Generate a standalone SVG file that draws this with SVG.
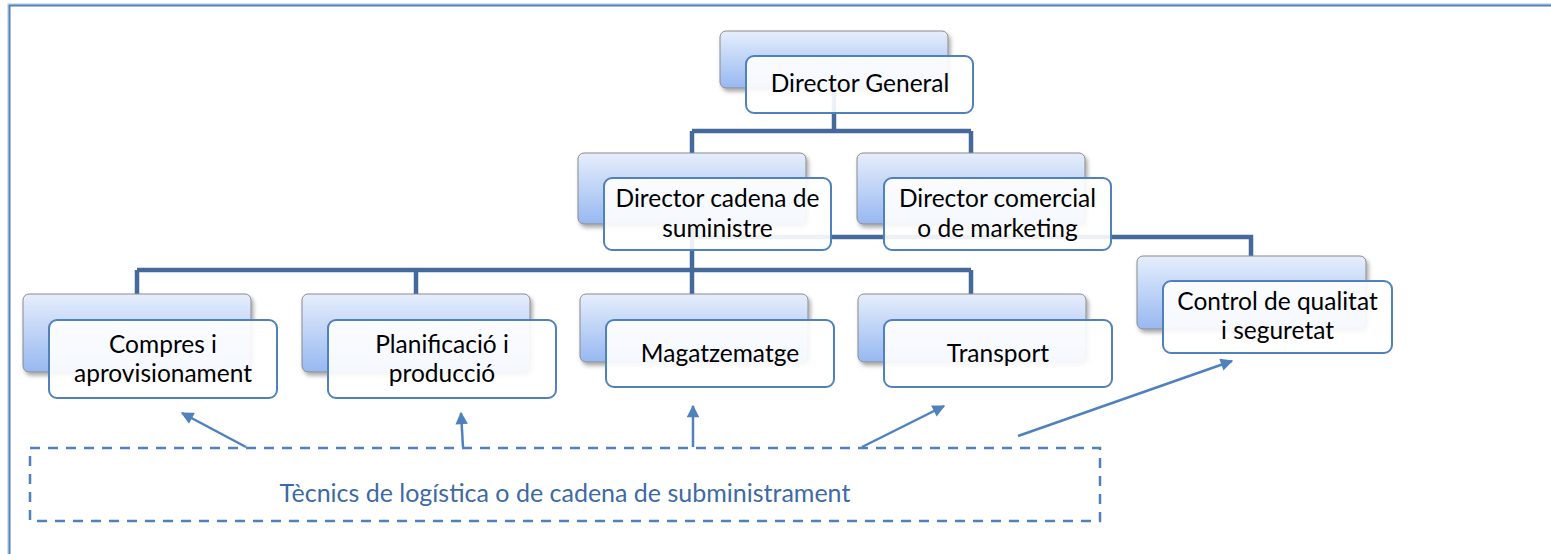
<svg xmlns="http://www.w3.org/2000/svg" width="1551" height="554" viewBox="0 0 1551 554">
<defs>
<linearGradient id="bg" x1="0" y1="0" x2="0" y2="1">
<stop offset="0" stop-color="#e6eefc"/>
<stop offset="1" stop-color="#97b8f1"/>
</linearGradient>
<filter id="sh" x="-10%" y="-10%" width="120%" height="130%">
<feDropShadow dx="2" dy="3" stdDeviation="2" flood-color="#000" flood-opacity="0.35"/>
</filter>
<marker id="ah" viewBox="0 0 10 10" refX="9" refY="5" markerWidth="5.5" markerHeight="5" orient="auto" markerUnits="strokeWidth">
<path d="M0,0 L10,5 L0,10 z" fill="#4f81bd"/>
</marker>
<style>
.back{fill:url(#bg);stroke:#8a8a8a;stroke-width:1;filter:url(#sh)}
.front{fill:#ffffff;fill-opacity:0.9;stroke:#4f81bd;stroke-width:2}
.t{font-family:Lato,"Liberation Sans",sans-serif;font-size:24.5px;fill:#000;text-anchor:middle}
.conn{fill:none;stroke:#46699c;stroke-width:4.5;stroke-linejoin:miter}
.arr{fill:none;stroke:#4f81bd;stroke-width:2.5;marker-end:url(#ah)}
</style>
</defs>
<rect width="1551" height="554" fill="#fff"/>
<rect x="8" y="4" width="1600" height="600" fill="none" stroke="#a9c1e2" stroke-width="1"/>
<rect x="9.5" y="5.5" width="1600" height="600" fill="none" stroke="#4f81bd" stroke-width="2"/>

<g id="connectors">
<path class="conn" d="M834,88 V131 M692,131 H971 M692,131 V153 M971,131 V153"/>
<path class="conn" d="M692,224 V270 M137,270 H971 M137,270 V294 M416,270 V294 M692,270 V294 M971,270 V294"/>
<path class="conn" d="M692,237 H1251 V256"/>
</g>

<g id="n-dg">
<rect class="back" x="720" y="31" width="228" height="57" rx="6"/>
<rect class="front" x="746" y="56" width="227" height="57" rx="8"/>
<text class="t" x="860" y="92">Director General</text>
</g>
<g id="n-cadena">
<rect class="back" x="578" y="153" width="228" height="71" rx="6"/>
<rect class="front" x="604" y="178" width="227" height="72" rx="8"/>
<text class="t" x="717.5" y="207">Director cadena de</text>
<text class="t" x="717.5" y="237">suministre</text>
</g>
<g id="n-comercial">
<rect class="back" x="857" y="153" width="228" height="71" rx="6"/>
<rect class="front" x="884" y="178" width="227" height="72" rx="8"/>
<text class="t" x="997.5" y="207">Director comercial</text>
<text class="t" x="997.5" y="237">o de marketing</text>
</g>
<g id="n-compres">
<rect class="back" x="23" y="294" width="228" height="78" rx="6"/>
<rect class="front" x="49" y="320" width="228" height="78" rx="8"/>
<text class="t" x="163" y="353">Compres i</text>
<text class="t" x="163" y="382">aprovisionament</text>
</g>
<g id="n-planificacio">
<rect class="back" x="302" y="294" width="228" height="78" rx="6"/>
<rect class="front" x="328" y="320" width="228" height="78" rx="8"/>
<text class="t" x="442" y="353">Planificació i</text>
<text class="t" x="442" y="382">producció</text>
</g>
<g id="n-magatzematge">
<rect class="back" x="580" y="294" width="228" height="68" rx="6"/>
<rect class="front" x="606" y="320" width="228" height="67" rx="8"/>
<text class="t" x="720" y="362">Magatzematge</text>
</g>
<g id="n-transport">
<rect class="back" x="858" y="294" width="228" height="68" rx="6"/>
<rect class="front" x="884" y="320" width="228" height="67" rx="8"/>
<text class="t" x="998" y="362">Transport</text>
</g>
<g id="n-control">
<rect class="back" x="1137" y="256" width="229" height="73" rx="6"/>
<rect class="front" x="1163" y="281" width="229" height="72" rx="8"/>
<text class="t" x="1277.5" y="310">Control de qualitat</text>
<text class="t" x="1277.5" y="339">i seguretat</text>
</g>

<g id="n-tecnics">
<rect x="30" y="448" width="1070" height="73" fill="none" stroke="#4f81bd" stroke-width="2.5" stroke-dasharray="10 8"/>
<text x="565" y="502" font-family="Lato,'Liberation Sans',sans-serif" font-size="25" fill="#3d6aa6" text-anchor="middle">Tècnics de logística o de cadena de subministrament</text>
</g>

<g id="arrows">
<path class="arr" d="M246,447 L182,413"/>
<path class="arr" d="M463,447 L461,413"/>
<path class="arr" d="M693,447 L693,406"/>
<path class="arr" d="M862,447 L944,406"/>
<path class="arr" d="M1018,436 L1232,361"/>
</g>
</svg>
